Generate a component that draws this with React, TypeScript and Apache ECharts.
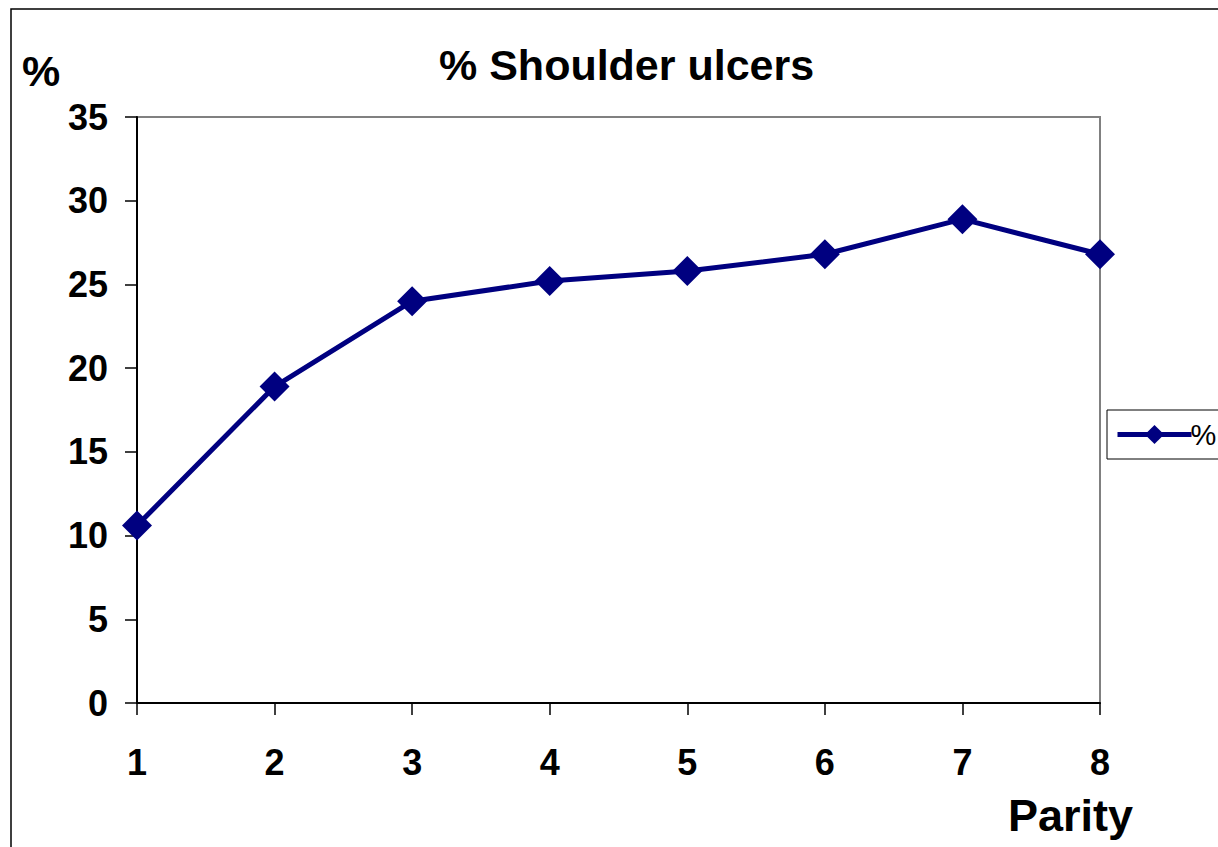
import React, { useEffect, useRef } from "react";
import * as echarts from "echarts";

const parity = ["1", "2", "3", "4", "5", "6", "7", "8"];
const ulcerPct = [10.6, 18.9, 24.0, 25.2, 25.8, 26.8, 28.9, 26.8];
const chartTitle = "% Shoulder ulcers";
const yName = "%";
const xName = "Parity";
const seriesName = "%";

const FONT = "'Liberation Sans', Arial, sans-serif";

export default function App() {
  const ref = useRef<HTMLDivElement>(null);
  useEffect(() => {
    if (!ref.current) return;
    const chart = echarts.init(ref.current, null, { renderer: "svg" });
    chart.setOption({
      animation: false,
      backgroundColor: "#ffffff",
      title: [
        {
          text: chartTitle,
          left: 434,
          top: 38,
          textStyle: { fontFamily: FONT, fontWeight: "bold", fontSize: 43, color: "#000" },
        },
        {
          text: yName,
          left: 17,
          top: 44,
          textStyle: { fontFamily: FONT, fontWeight: "bold", fontSize: 43, color: "#000" },
        },
        {
          text: xName,
          left: 1003,
          top: 788,
          textStyle: { fontFamily: FONT, fontWeight: "bold", fontSize: 45, color: "#000" },
        },
      ],
      legend: {
        show: true,
        left: 1107,
        top: 410,
        orient: "vertical",
        data: [seriesName],
        itemWidth: 74,
        itemHeight: 24,
        itemGap: 0,
        padding: [10, 40, 10, 8],
        borderColor: "#000",
        borderWidth: 1,
        backgroundColor: "#fff",
        lineStyle: { width: 5 },
        textStyle: { fontFamily: FONT, fontSize: 29, color: "#000", padding: [0, 0, 0, -6] },
      },
      grid: {
        left: 137,
        right: 118,
        top: 117,
        bottom: 144,
        show: true,
        borderColor: "#808080",
        borderWidth: 2,
        containLabel: false,
      },
      xAxis: {
        type: "category",
        data: parity,
        boundaryGap: false,
        axisLine: { lineStyle: { color: "#000", width: 2 } },
        axisTick: { show: true, length: 12, lineStyle: { color: "#000", width: 1.5 } },
        axisLabel: {
          margin: 41,
          fontFamily: FONT,
          fontWeight: "bold",
          fontSize: 36,
          color: "#000",
        },
        splitLine: { show: false },
      },
      yAxis: {
        type: "value",
        min: 0,
        max: 35,
        interval: 5,
        axisLine: { show: true, lineStyle: { color: "#000", width: 2 } },
        axisTick: { show: true, length: 12, lineStyle: { color: "#000", width: 1.5 } },
        axisLabel: {
          margin: 29,
          fontFamily: FONT,
          fontWeight: "bold",
          fontSize: 36,
          color: "#000",
        },
        splitLine: { show: false },
      },
      series: [
        {
          name: seriesName,
          type: "line",
          data: ulcerPct,
          symbol: "diamond",
          symbolSize: 30,
          lineStyle: { color: "#000080", width: 5 },
          itemStyle: { color: "#000080" },
        },
      ],
      graphic: [
        {
          type: "rect",
          shape: { x: 11, y: 9, width: 1230, height: 860 },
          style: { fill: "none", stroke: "#000", lineWidth: 1.5 },
          silent: true,
          z: 100,
        },
      ],
    });
    return () => chart.dispose();
  }, []);
  return (
    <div
      ref={ref}
      style={{ position: "fixed", left: 0, top: 0, width: 1218, height: 847 }}
    />
  );
}
